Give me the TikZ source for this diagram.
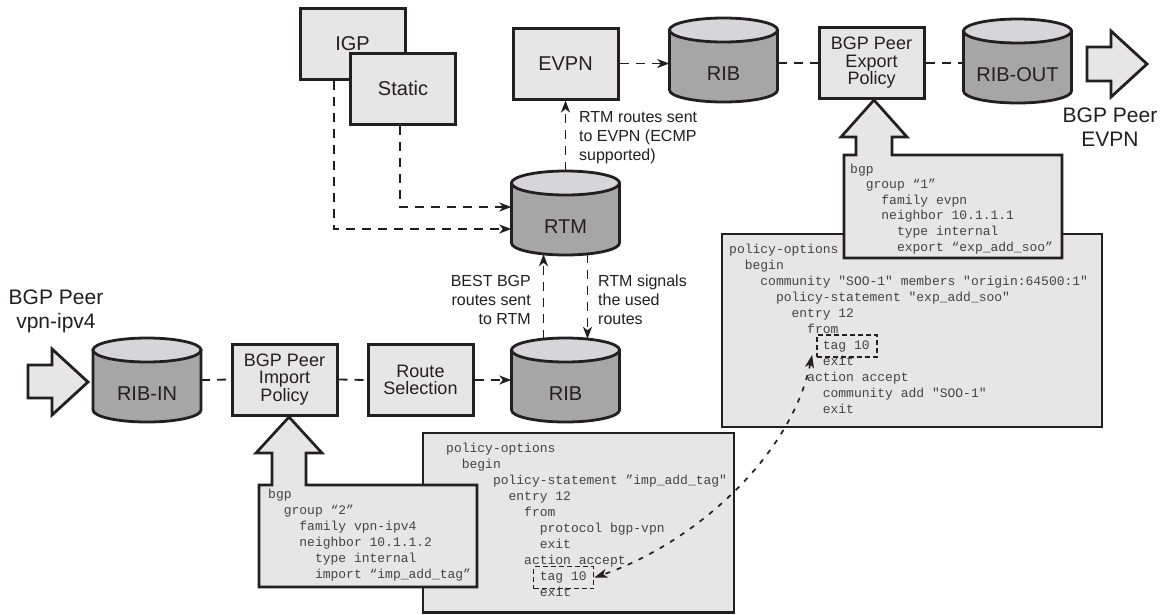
\documentclass[tikz,border=0pt]{standalone}
\usepackage{fontspec}
\setmainfont{Liberation Sans}
\newfontfamily\codefont{Liberation Mono}
\usetikzlibrary{arrows.meta,calc}
\definecolor{boxfill}{HTML}{E6E6E6}
\definecolor{cylbody}{HTML}{A6A6A6}
\definecolor{cyltop}{HTML}{D6D6D8}
\definecolor{edge}{HTML}{231F20}
\definecolor{codetext}{HTML}{444444}
\newdimen\codecw \codecw=7.8pt
\newcommand\cind[1]{\hskip#1\codecw\relax}
\newcommand\cylshape[1]{%
  \path[fill=cylbody, draw=edge, line width=2.8pt] ($#1+(-54,30)$) -- ($#1+(-54,-30)$)
    arc[start angle=180, end angle=360, x radius=54pt, y radius=12pt] -- ($#1+(54,30)$) -- cycle;
  \path[fill=cyltop, draw=edge, line width=2.8pt] ($#1+(0,30)$) ellipse[x radius=54pt, y radius=12pt];
}
\begin{document}
\begin{tikzpicture}[x=1pt,y=1pt,
  box/.style={draw=edge, fill=boxfill, line width=3pt, minimum width=105pt, minimum height=71pt,
    inner sep=0pt, font=\fontsize{20}{20}\selectfont, text=edge},
  mbox/.style={box, align=center, font=\fontsize{18}{17.5}\selectfont},
  cyl/.style={minimum width=108pt, minimum height=84pt, inner sep=0pt, text height=40pt,
    text depth=0pt, font=\fontsize{20}{20}\selectfont, text=edge},
  link/.style={draw=edge, line width=1.8pt, dash pattern=on 9pt off 7pt},
  arr/.style={link, -{Stealth[length=12pt,width=9pt,inset=3.5pt]}},
  note/.style={font=\fontsize{16}{19}\selectfont, text=edge, inner sep=0pt},
  peer/.style={font=\fontsize{21}{24}\selectfont, text=edge, inner sep=0pt, align=center, anchor=north},
  code/.style={font=\codefont\fontsize{13}{16}\selectfont, text=codetext, inner sep=0pt, anchor=base west},
  codeframe/.style={draw=edge, fill=boxfill, line width=2.7pt, line join=miter},
  bigarrow/.style={draw=edge, fill=boxfill, line width=2.8pt, line join=miter},
  tagbox/.style={draw=edge, line width=1.7pt, dash pattern=on 5pt off 3pt,
    minimum width=60pt, minimum height=22pt, inner sep=0pt},
  curvelink/.style={draw=edge, line width=1.7pt, dash pattern=on 5pt off 7pt,
    {Stealth[length=13pt,width=9pt,inset=3.5pt]}-{Stealth[length=13pt,width=9pt,inset=3.5pt]}},
]
\fill[white] (0,0) rectangle (1163,-614);
\useasboundingbox (0,0) rectangle (1163,-614);

% cylinders
\cylshape{(147,-380)}
\node[cyl] (ribin) at (147,-380) {RIB-IN};
\cylshape{(565.5,-380)}
\node[cyl] (rib) at (565.5,-380) {RIB};
\cylshape{(565.5,-213)}
\node[cyl] (rtm) at (565.5,-213) {RTM};
\cylshape{(723.5,-60)}
\node[cyl] (ribt) at (723.5,-60) {RIB};
\cylshape{(1017.5,-61)}
\node[cyl] (ribout) at (1017.5,-61) {RIB-OUT};

% boxes
\node[box] (igp) at (352.5,-43.5) {IGP};
\node[box] (static) at (403,-88.5) {Static};
\node[box] (evpn) at (565.5,-63.5) {EVPN};
\node[mbox] (export) at (871.5,-63) {BGP Peer\\Export\\Policy};
\node[mbox] (import) at (284.5,-379.5) {BGP Peer\\Import\\Policy};
\node[mbox] (rsel) at (420.5,-380) {Route\\Selection};

% big in/out arrows
\draw[bigarrow] (28,-365) -- (52,-365) -- (52,-349) -- (88,-382) -- (52,-415) -- (52,-398) -- (28,-398) -- cycle;
\draw[bigarrow] (1087,-47) -- (1111,-47) -- (1111,-31) -- (1147,-64) -- (1111,-97) -- (1111,-81) -- (1087,-81) -- cycle;
\node[peer] (peerin) at (56,-290) {BGP Peer\\vpn-ipv4};
\node[peer] (peerout) at (1110,-108) {BGP Peer\\EVPN};

% connectors
\draw[link] (ribin.east) -- (import.west);
\draw[link] (import.east) -- (rsel.west);
\draw[arr] (rsel.east) -- (rib.west);
\draw[arr] ($(rib.north)+(-22,-1)$) -- ($(rtm.south)+(-22,1)$);
\draw[arr] ($(rtm.south)+(22,1)$) -- ($(rib.north)+(22,-1)$);
\draw[arr] (rtm.north) -- (evpn.south);
\draw[arr] ($(static.south)+(-3,0)$) |- ($(rtm.west)+(0,6)$);
\draw[arr] ($(igp.south)+(-18.5,0)$) |- ($(rtm.west)+(0,-16)$);
\draw[arr] (evpn.east) -- (evpn.east -| ribt.west);
\draw[link] (ribt.east |- export.west) -- (export.west);
\draw[link] (export.east) -- (export.east -| ribout.west);

% notes
\node[note, align=left, anchor=north west] (n1) at (579,-111.5) {RTM routes sent\\to EVPN (ECMP\\supported)};
\node[note, align=right, anchor=north east] (n2) at (531,-275.5) {BEST BGP\\routes sent\\to RTM};
\node[note, align=left, anchor=north west] (n3) at (598,-274.5) {RTM signals\\the used\\routes};

% right policy box
\draw[codeframe] (722,-234) rectangle (1102,-427);
\node[code] (codeR) at (729,-253) {\vtop{%
  \hbox{policy-options}
  \hbox{\cind{2}begin}
  \hbox{\cind{4}community "SOO-1" members "origin:64500:1"}
  \hbox{\cind{6}policy-statement "exp\_add\_soo"}
  \hbox{\cind{8}entry 12}
  \hbox{\cind{10}from}
  \hbox{\cind{12}tag 10}
  \hbox{\cind{12}exit}
  \hbox{\cind{10}action accept}
  \hbox{\cind{12}community add "SOO-1"}
  \hbox{\cind{12}exit}}};

% export bgp box
\draw[codeframe] (844,-155) -- (856,-155) -- (856,-137) -- (841,-137) -- (874,-100) -- (907,-137) -- (892,-137) -- (892,-155) -- (1062,-155) -- (1062,-258) -- (844,-258) -- cycle;
\node[code, font=\codefont\fontsize{13}{15.6}\selectfont] (codeE) at (850,-173) {\vtop{%
  \hbox{bgp}
  \hbox{\cind{2}group “1”}
  \hbox{\cind{4}family evpn}
  \hbox{\cind{4}neighbor 10.1.1.1}
  \hbox{\cind{6}type internal}
  \hbox{\cind{6}export “exp\_add\_soo”}}};

% bottom policy box
\draw[codeframe] (423,-433) rectangle (734,-612.5);
\node[code] (codeB) at (446,-452) {\vtop{%
  \hbox{policy-options}
  \hbox{\cind{2}begin}
  \hbox{\cind{6}policy-statement ”imp\_add\_tag"}
  \hbox{\cind{8}entry 12}
  \hbox{\cind{10}from}
  \hbox{\cind{12}protocol bgp-vpn}
  \hbox{\cind{12}exit}
  \hbox{\cind{10}action accept}
  \hbox{\cind{12}tag 10}
  \hbox{\cind{12}exit}}};

% import bgp box
\draw[codeframe] (259,-485) -- (272,-485) -- (272,-453) -- (256,-453) -- (289,-417) -- (322,-453) -- (306,-453) -- (306,-485) -- (477,-485) -- (477,-587) -- (259,-587) -- cycle;
\node[code] (codeI) at (268,-498) {\vtop{%
  \hbox{bgp}
  \hbox{\cind{2}group “2”}
  \hbox{\cind{4}family vpn-ipv4}
  \hbox{\cind{4}neighbor 10.1.1.2}
  \hbox{\cind{6}type internal}
  \hbox{\cind{6}import “imp\_add\_tag”}}};

% tag boxes and link
\node[tagbox] (tagR) at (847,-346) {};
\node[tagbox] (tagB) at (563.5,-577.5) {};
\draw[curvelink] ($(tagR.south west)+(-4,3)$) .. controls (790,-460) and (690,-545) .. (tagB.east);
\end{tikzpicture}
\end{document}
